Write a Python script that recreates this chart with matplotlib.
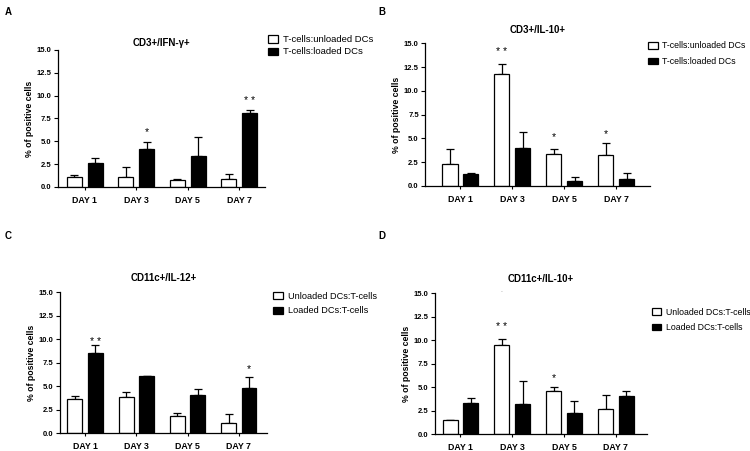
"""Four-panel bar chart: % positive cells per day, unloaded vs loaded DCs."""

import matplotlib

matplotlib.use("Agg")

import matplotlib.pyplot as plt
import numpy as np

plt.rcParams["font.family"] = ["Liberation Sans", "DejaVu Sans"]

DAYS = ["DAY 1", "DAY 3", "DAY 5", "DAY 7"]

# panel A: CD3+/IFN-g+
a_unloaded = [1.1, 1.1, 0.8, 0.9]
a_unloaded_err = [0.25, 1.1, 0.12, 0.55]
a_loaded = [2.65, 4.15, 3.4, 8.05]
a_loaded_err = [0.55, 0.75, 2.05, 0.35]
a_stars = [("loaded", 1, "*", 6.0), ("loaded", 3, "* *", 9.4)]

# panel B: CD3+/IL-10+
b_unloaded = [2.35, 11.8, 3.35, 3.2]
b_unloaded_err = [1.5, 1.0, 0.55, 1.3]
b_loaded = [1.2, 3.95, 0.5, 0.7]
b_loaded_err = [0.12, 1.75, 0.4, 0.7]
b_stars = [("unloaded", 1, "* *", 14.1), ("unloaded", 2, "*", 5.1), ("unloaded", 3, "*", 5.4)]

# panel C: CD11c+/IL-12+
c_unloaded = [3.7, 3.9, 1.85, 1.1]
c_unloaded_err = [0.25, 0.5, 0.35, 1.0]
c_loaded = [8.5, 6.05, 4.1, 4.85]
c_loaded_err = [0.85, 0.05, 0.6, 1.1]
c_stars = [("loaded", 0, "* *", 9.7), ("loaded", 3, "*", 6.8)]

# panel D: CD11c+/IL-10+
d_unloaded = [1.5, 9.55, 4.65, 2.7]
d_unloaded_err = [0.07, 0.62, 0.35, 1.5]
d_loaded = [3.36, 3.2, 2.25, 4.07]
d_loaded_err = [0.5, 2.44, 1.25, 0.5]
d_stars = [("unloaded", 1, "* *", 11.4), ("unloaded", 2, "*", 6.0), ("unloaded", 1, "-", 15.2)]

T_LABELS = ["T-cells:unloaded DCs", "T-cells:loaded DCs"]
DC_LABELS = ["Unloaded DCs:T-cells", "Loaded DCs:T-cells"]

W = 0.29
OFF = 0.2


def panel(fig, rect, title, unloaded, u_err, loaded, l_err, stars, labels,
          xlim, leg_xy, title_pad, leg_space, leg_size=6.3):
    ax = fig.add_axes(rect)
    x = np.arange(len(DAYS))
    ax.bar(x - OFF, unloaded, W, color="white", edgecolor="black", linewidth=0.9,
           label=labels[0], zorder=2)
    ax.bar(x + OFF, loaded, W, color="black", edgecolor="black", linewidth=0.9,
           label=labels[1], zorder=2)
    for xs, vals, err in [(x - OFF, unloaded, u_err), (x + OFF, loaded, l_err)]:
        ax.errorbar(xs, vals, yerr=[np.zeros(len(err)), err], fmt="none",
                    ecolor="black", elinewidth=0.9, capsize=3.2, capthick=0.9, zorder=1)
    for group, i, txt, y in stars:
        xpos = i - OFF if group == "unloaded" else i + OFF
        if txt == "-":
            ax.text(xpos, y, txt, ha="center", va="center", fontsize=4,
                    color="#999999", clip_on=False)
        else:
            ax.text(xpos, y, txt, ha="center", va="center", fontsize=7.5)

    ax.set_xlim(*xlim)
    ax.set_ylim(0, 15)
    ax.set_yticks(np.arange(0, 15.1, 2.5))
    ax.set_yticklabels([f"{v:.1f}" for v in np.arange(0, 15.1, 2.5)],
                       fontsize=5.5, fontweight="bold")
    ax.set_xticks(x)
    ax.set_xticklabels(DAYS, fontsize=6.3, fontweight="bold")
    ax.tick_params(axis="y", length=3, width=0.8, pad=1.5)
    ax.tick_params(axis="x", length=2.5, width=0.8, pad=4)
    for s in ["top", "right"]:
        ax.spines[s].set_visible(False)
    for s in ["left", "bottom"]:
        ax.spines[s].set_linewidth(0.9)
    ax.set_ylabel("% of positive cells", fontsize=6.3, fontweight="bold", labelpad=2)
    ax.set_title(title, fontsize=7, fontweight="bold", pad=title_pad)
    ax.legend(loc="upper left", bbox_to_anchor=leg_xy, bbox_transform=fig.transFigure,
              frameon=False, fontsize=leg_size, handlelength=1.1, handleheight=0.8,
              handletextpad=0.55, labelspacing=leg_space, borderaxespad=0, borderpad=0)
    return ax


fig = plt.figure(figsize=(7.5, 4.51), dpi=100)

panel(fig, [0.0773, 0.5854, 0.276, 0.3038], "CD3+/IFN-\u03b3+",
      a_unloaded, a_unloaded_err, a_loaded, a_loaded_err, a_stars, T_LABELS,
      (-0.52, 3.5), (0.357, 0.922), 3, 0.35, 6.8)
panel(fig, [0.5667, 0.588, 0.30, 0.3157], "CD3+/IL-10+",
      b_unloaded, b_unloaded_err, b_loaded, b_loaded_err, b_stars, T_LABELS,
      (-0.68, 3.65), (0.864, 0.908), 7.5, 0.75)
panel(fig, [0.080, 0.0392, 0.276, 0.3126], "CD11c+/IL-12+",
      c_unloaded, c_unloaded_err, c_loaded, c_loaded_err, c_stars, DC_LABELS,
      (-0.49, 3.55), (0.364, 0.353), 8.5, 0.6, 6.6)
panel(fig, [0.580, 0.037, 0.2827, 0.3126], "CD11c+/IL-10+",
      d_unloaded, d_unloaded_err, d_loaded, d_loaded_err, d_stars, DC_LABELS,
      (-0.49, 3.6), (0.869, 0.318), 8.5, 0.75)

for letter, fx, fy in [("A", 0.006, 0.985), ("B", 0.504, 0.985),
                       ("C", 0.006, 0.487), ("D", 0.504, 0.487)]:
    fig.text(fx, fy, letter, fontsize=7, fontweight="bold", va="top")

fig.savefig("out.png", dpi=100)
